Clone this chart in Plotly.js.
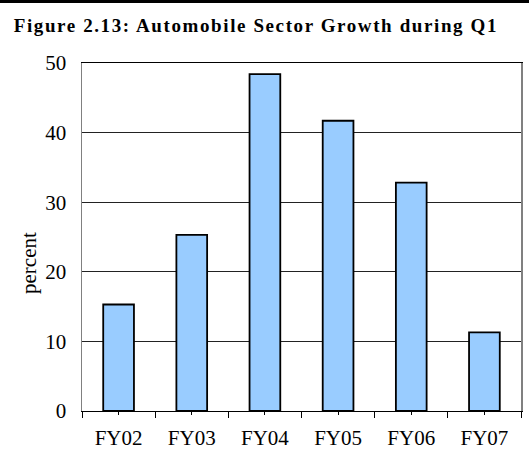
<!DOCTYPE html>
<html>
<head>
<meta charset="utf-8">
<script src="https://cdn.plot.ly/plotly-3.0.1.min.js"></script>
<style>
html,body{margin:0;padding:0;background:#fff;}
#chart{width:529px;height:469px;border-top:3px solid #000;}
#chart .gtitle{letter-spacing:1.6px;}
</style>
</head>
<body>
<div id="chart"></div>
<script>
const categories = ["FY02","FY03","FY04","FY05","FY06","FY07"];
const growth = [15.3, 25.3, 48.4, 41.7, 32.8, 11.3];
const yTicks = [0, 10, 20, 30, 40, 50];
const yLabel = "percent";

const serif = "Liberation Serif, Times New Roman, serif";

const traces = [
  {
    type: "bar",
    x: categories,
    y: growth,
    marker: {color: "#99CCFF", line: {color: "#000000", width: 1.8}},
    hoverinfo: "skip"
  },
  {
    type: "scatter",
    mode: "markers",
    x: categories,
    y: growth,
    xaxis: "x2",
    marker: {opacity: 0},
    hoverinfo: "skip",
    showlegend: false
  }
];

const layout = {
  width: 529,
  height: 469,
  margin: {l: 82, r: 8, t: 60, b: 61},
  paper_bgcolor: "#ffffff",
  plot_bgcolor: "#ffffff",
  showlegend: false,
  bargap: 0.58,
  font: {family: serif, color: "#000000", size: 21},
  title: {
    text: "<b>Figure 2.13: Automobile Sector Growth during Q1</b>",
    font: {family: serif, size: 19, color: "#000000"},
    xref: "container", x: 0.026, xanchor: "left",
    yref: "container", y: 0.952, yanchor: "middle"
  },
  xaxis: {
    type: "category",
    categoryarray: categories,
    range: [-0.5, 5.5],
    showline: true, linecolor: "#000000", linewidth: 1,
    mirror: true,
    ticks: "outside", tickson: "boundaries", ticklen: 6, tickcolor: "#000000",
    showgrid: false, zeroline: false,
    tickfont: {family: serif, size: 21, color: "#000000"},
    ticklabelstandoff: 8
  },
  xaxis2: {
    type: "category",
    categoryarray: categories,
    range: [-0.5, 5.5],
    overlaying: "x", anchor: "y", side: "bottom",
    showline: false, showgrid: false, zeroline: false,
    ticks: "outside", ticklen: 3, tickcolor: "#000000",
    showticklabels: false
  },
  yaxis: {
    range: [0, 50],
    tickvals: yTicks,
    showline: true, linecolor: "#808080", linewidth: 1.5, mirror: true,
    showgrid: true, gridcolor: "#222222", gridwidth: 1,
    zeroline: false,
    ticks: "",
    tickfont: {family: serif, size: 21, color: "#000000"},
    ticklabelstandoff: 10
  },
  annotations: [{
    text: yLabel,
    xref: "paper", yref: "paper",
    x: -0.121, y: 0.425,
    xanchor: "center", yanchor: "middle",
    textangle: -90,
    showarrow: false,
    font: {family: serif, size: 21, color: "#000000"}
  }]
};

Plotly.newPlot("chart", traces, layout, {displayModeBar: false, staticPlot: true});
</script>
</body>
</html>
